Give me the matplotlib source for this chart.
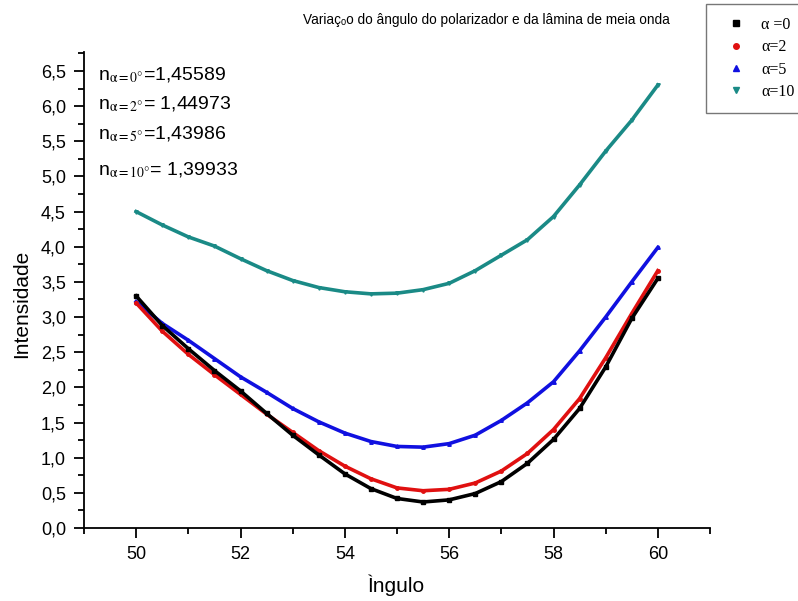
import matplotlib
matplotlib.use("Agg")
import matplotlib.pyplot as plt
from matplotlib.ticker import MultipleLocator, FuncFormatter
from matplotlib.lines import Line2D

plt.rcParams['font.family'] = ['Liberation Sans', 'DejaVu Sans']
plt.rcParams['mathtext.fontset'] = 'stix'

angle = [50.0, 50.5, 51.0, 51.5, 52.0, 52.5, 53.0, 53.5, 54.0, 54.5, 55.0,
         55.5, 56.0, 56.5, 57.0, 57.5, 58.0, 58.5, 59.0, 59.5, 60.0]
alpha0 = [3.30, 2.88, 2.55, 2.24, 1.95, 1.63, 1.32, 1.04, 0.77, 0.56, 0.42,
          0.37, 0.40, 0.49, 0.66, 0.92, 1.26, 1.70, 2.29, 2.98, 3.55]
alpha2 = [3.20, 2.80, 2.47, 2.18, 1.90, 1.62, 1.36, 1.10, 0.88, 0.70, 0.57,
          0.53, 0.55, 0.64, 0.81, 1.06, 1.40, 1.84, 2.42, 3.05, 3.66]
alpha5 = [3.22, 2.91, 2.67, 2.41, 2.15, 1.93, 1.70, 1.51, 1.35, 1.23, 1.16,
          1.15, 1.20, 1.32, 1.53, 1.78, 2.08, 2.52, 3.00, 3.50, 3.99]
alpha10 = [4.50, 4.31, 4.14, 4.01, 3.83, 3.66, 3.52, 3.42, 3.36, 3.33, 3.34,
           3.39, 3.48, 3.66, 3.88, 4.10, 4.43, 4.88, 5.36, 5.80, 6.30]

series_labels = ["α =0", "α=2", "α=5", "α=10"]
series_colors = ["#000000", "#e01010", "#1010e0", "#1a8a86"]
series_markers = ["s", "o", "^", "v"]
n_texts = [r"n$_{\mathrm{α=0°}}$=1,45589", r"n$_{\mathrm{α=2°}}$= 1,44973",
           r"n$_{\mathrm{α=5°}}$=1,43986", r"n$_{\mathrm{α=10°}}$= 1,39933"]

fig = plt.figure(figsize=(7.98, 6.01), dpi=100)
ax = fig.add_axes([84/798, 1 - 528/601, (710 - 84)/798, (528 - 52)/601])

data = [alpha0, alpha2, alpha5, alpha10]
order = [3, 2, 1, 0]
for i in order:
    ax.plot(angle, data[i], color=series_colors[i], lw=2.6, marker=series_markers[i],
            ms=2.5, zorder=3 + (3 - i))

ax.set_xlim(49, 61)
ax.set_ylim(0, 6.77)
ax.xaxis.set_major_locator(MultipleLocator(2))
ax.xaxis.set_minor_locator(MultipleLocator(1))
ax.yaxis.set_major_locator(MultipleLocator(0.5))
ax.yaxis.set_minor_locator(MultipleLocator(0.25))
ax.yaxis.set_major_formatter(FuncFormatter(lambda v, p: f"{v:.1f}".replace(".", ",")))
ax.xaxis.set_major_formatter(FuncFormatter(lambda v, p: f"{v:.0f}"))
ax.tick_params(which='major', direction='out', length=7, width=1.3, labelsize=13, pad=6)
ax.tick_params(which='minor', direction='out', length=4, width=1.3)
for s in ['top', 'right']:
    ax.spines[s].set_visible(False)
for s in ['left', 'bottom']:
    ax.spines[s].set_linewidth(1.3)

ax.set_xlabel("Ìngulo", fontsize=15, labelpad=8)
ax.set_ylabel("Intensidade", fontsize=15, labelpad=8)
ax.yaxis.set_label_coords(-0.085, 0.47)
fig.text(486/798, 1 - 20/601, "Variaçₒo do ângulo do polarizador e da lâmina de meia onda",
         ha='center', va='center', fontsize=9.8)

ys = [75, 104, 134, 170]
for t, y in zip(n_texts, ys):
    fig.text(98/798, 1 - y/601, t, fontsize=14, va='center', ha='left')

handles = [Line2D([], [], color=c, marker=m, ls='none', ms=4)
           for c, m in zip(series_colors, series_markers)]
leg = fig.legend(handles, series_labels, loc='upper left',
                 bbox_to_anchor=(706/798, 1 - 4/601), frameon=True, fancybox=False,
                 prop={'family': 'Liberation Serif', 'size': 11.5},
                 handlelength=2.1, handletextpad=0.55, borderpad=0.8, labelspacing=0.4,
                 borderaxespad=0)
leg.get_frame().set_edgecolor('#555555')
leg.get_frame().set_linewidth(1.0)

fig.savefig("out.png", dpi=100)
